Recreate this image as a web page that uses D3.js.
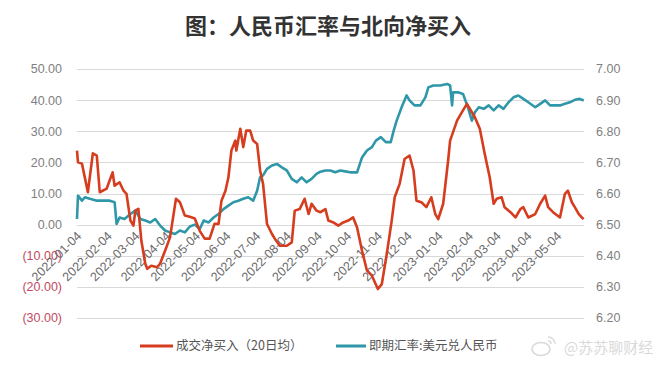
<!DOCTYPE html>
<html><head><meta charset="utf-8">
<script src="https://cdn.jsdelivr.net/npm/d3@7"></script>
<style>
html,body{margin:0;padding:0;background:#fff;}
svg{display:block;font-family:"Noto Sans CJK SC","Noto Sans",sans-serif;}
</style></head>
<body><svg id="c" width="672" height="368"></svg>
<script>
const title = "图：人民币汇率与北向净买入";
const seriesNames = ["成交净买入（20日均）", "即期汇率:美元兑人民币"];
const leftTicks = [-30, -20, -10, 0, 10, 20, 30, 40, 50];
const rightTicks = [6.2, 6.3, 6.4, 6.5, 6.6, 6.7, 6.8, 6.9, 7.0];
const xTickLabels = ["2022-01-04","2022-02-04","2022-03-04","2022-04-04","2022-05-04","2022-06-04","2022-07-04","2022-08-04","2022-09-04","2022-10-04","2022-11-04","2022-12-04","2023-01-04","2023-02-04","2023-03-04","2023-04-04","2023-05-04"];

const netDates = ["2022-01-04","2022-01-05","2022-01-09","2022-01-15","2022-01-20","2022-01-24","2022-01-27","2022-02-03","2022-02-09","2022-02-11","2022-02-16","2022-02-20","2022-02-23","2022-02-27","2022-03-02","2022-03-04","2022-03-07","2022-03-10","2022-03-14","2022-03-16","2022-03-20","2022-03-26","2022-03-29","2022-04-03","2022-04-08","2022-04-14","2022-04-18","2022-04-23","2022-04-28","2022-05-03","2022-05-08","2022-05-13","2022-05-18","2022-05-23","2022-05-27","2022-05-30","2022-06-03","2022-06-06","2022-06-09","2022-06-13","2022-06-14","2022-06-18","2022-06-21","2022-06-24","2022-06-28","2022-07-01","2022-07-05","2022-07-08","2022-07-11","2022-07-15","2022-07-20","2022-07-23","2022-07-28","2022-08-04","2022-08-09","2022-08-12","2022-08-17","2022-08-22","2022-08-26","2022-08-29","2022-09-03","2022-09-07","2022-09-12","2022-09-15","2022-09-20","2022-09-25","2022-09-30","2022-10-05","2022-10-10","2022-10-14","2022-10-19","2022-10-24","2022-10-29","2022-11-04","2022-11-08","2022-11-13","2022-11-18","2022-11-21","2022-11-26","2022-12-01","2022-12-06","2022-12-10","2022-12-13","2022-12-18","2022-12-23","2022-12-28","2023-01-01","2023-01-04","2023-01-09","2023-01-14","2023-01-16","2023-01-23","2023-01-29","2023-02-02","2023-02-10","2023-02-15","2023-02-20","2023-02-25","2023-03-01","2023-03-04","2023-03-09","2023-03-12","2023-03-18","2023-03-23","2023-03-28","2023-03-31","2023-04-05","2023-04-12","2023-04-17","2023-04-22","2023-04-25","2023-04-30","2023-05-07","2023-05-12","2023-05-15","2023-05-19","2023-05-22","2023-05-26","2023-05-29","2023-05-31"];
const netValues = [23.8,20.0,19.6,10.4,22.9,22.2,10.4,11.6,16.8,12.5,13.6,10.9,9.9,1.3,-0.3,4.5,5.1,-5.1,-12.6,-14.2,-13.2,-13.7,-12.5,-8.4,-4.1,8.3,7.2,2.9,2.5,2.0,-2.0,-4.5,-4.5,0.3,0.2,7.7,10.9,15.2,23.8,27.0,23.8,30.8,24.9,30.2,30.2,27.0,25.9,17.4,13.1,0.2,-3.0,-4.6,-6.8,-6.8,-5.7,4.5,5.0,8.3,3.4,6.7,4.5,4.0,5.0,1.3,0.7,-0.3,0.7,1.3,2.3,-0.9,-8.4,-14.8,-16.4,-20.7,-19.1,-9.4,1.3,8.8,13.1,21.1,22.2,17.4,7.7,7.2,5.6,8.8,3.4,1.8,6.7,20.6,27.0,33.4,36.7,38.8,34.5,30.8,22.7,15.2,6.7,8.3,8.8,5.6,4.0,2.3,5.0,5.6,2.3,3.4,6.7,9.3,5.6,4.0,2.3,9.9,10.9,7.2,5.6,3.4,2.3,1.8];

const fxDates = ["2022-01-04","2022-01-05","2022-01-09","2022-01-12","2022-01-17","2022-01-24","2022-01-31","2022-02-06","2022-02-11","2022-02-13","2022-02-16","2022-02-21","2022-02-27","2022-03-04","2022-03-09","2022-03-14","2022-03-19","2022-03-24","2022-03-29","2022-04-03","2022-04-08","2022-04-13","2022-04-18","2022-04-23","2022-04-28","2022-05-03","2022-05-08","2022-05-12","2022-05-17","2022-05-22","2022-05-27","2022-06-01","2022-06-06","2022-06-11","2022-06-16","2022-06-21","2022-06-26","2022-07-01","2022-07-05","2022-07-08","2022-07-11","2022-07-15","2022-07-20","2022-07-25","2022-07-30","2022-08-04","2022-08-09","2022-08-14","2022-08-19","2022-08-24","2022-08-29","2022-09-03","2022-09-07","2022-09-12","2022-09-17","2022-09-22","2022-09-27","2022-10-02","2022-10-07","2022-10-14","2022-10-19","2022-10-24","2022-10-29","2022-11-02","2022-11-07","2022-11-12","2022-11-17","2022-11-20","2022-11-23","2022-11-28","2022-12-03","2022-12-06","2022-12-11","2022-12-17","2022-12-22","2022-12-25","2022-12-30","2023-01-06","2023-01-13","2023-01-16","2023-01-18","2023-01-19","2023-01-24","2023-01-29","2023-02-03","2023-02-07","2023-02-10","2023-02-14","2023-02-19","2023-02-24","2023-03-01","2023-03-06","2023-03-11","2023-03-16","2023-03-21","2023-03-26","2023-03-31","2023-04-05","2023-04-12","2023-04-17","2023-04-22","2023-04-27","2023-05-02","2023-05-07","2023-05-12","2023-05-17","2023-05-22","2023-05-27","2023-05-31"];
const fxValues = [6.518,6.593,6.577,6.588,6.583,6.577,6.577,6.577,6.572,6.502,6.523,6.518,6.534,6.545,6.518,6.513,6.507,6.518,6.497,6.481,6.475,6.470,6.481,6.475,6.494,6.500,6.486,6.513,6.507,6.523,6.534,6.550,6.561,6.572,6.577,6.583,6.588,6.577,6.609,6.652,6.658,6.679,6.690,6.695,6.684,6.674,6.647,6.636,6.652,6.636,6.647,6.663,6.670,6.674,6.674,6.668,6.674,6.671,6.668,6.668,6.716,6.738,6.749,6.770,6.781,6.765,6.765,6.802,6.834,6.877,6.915,6.899,6.883,6.883,6.909,6.941,6.947,6.947,6.952,6.947,6.883,6.925,6.925,6.920,6.877,6.834,6.861,6.877,6.872,6.883,6.867,6.883,6.872,6.893,6.909,6.915,6.904,6.893,6.877,6.888,6.899,6.883,6.883,6.883,6.888,6.893,6.901,6.904,6.899];

const colors = {net: "#d63c1e", fx: "#2f97a8"};
const parse = d3.timeParse("%Y-%m-%d");
const svg = d3.select("#c");

const x = d3.scaleTime().domain([parse("2022-01-04"), parse("2023-05-04")]).range([77, 557]);
const yL = d3.scaleLinear().domain([-30, 50]).range([318, 69]);
const yR = d3.scaleLinear().domain([6.2, 7.0]).range([318, 69]);
const xLeft = 77, xRight = 584;

// title
svg.append("text").attr("x", 328).attr("y", 34).attr("text-anchor", "middle")
  .attr("font-size", 22).attr("font-weight", "bold").attr("fill", "#333").text(title);

// gridlines
svg.append("g").selectAll("line").data(leftTicks).join("line")
  .attr("x1", xLeft).attr("x2", xRight)
  .attr("y1", d => Math.round(yL(d)) + 0.5).attr("y2", d => Math.round(yL(d)) + 0.5)
  .attr("stroke", "#d9d9d9").attr("stroke-width", 1);

// left axis labels
const fmt = d3.format(".2f");
svg.append("g").selectAll("text").data(leftTicks).join("text")
  .attr("x", 62).attr("y", d => yL(d)).attr("dy", "0.35em").attr("text-anchor", "end")
  .attr("font-size", 12.5).attr("font-family", "Liberation Sans, Arial, sans-serif")
  .attr("fill", d => d < 0 ? "#c24a62" : "#808080")
  .text(d => d < 0 ? "(" + fmt(-d) + ")" : fmt(d));

// right axis labels
svg.append("g").selectAll("text").data(rightTicks).join("text")
  .attr("x", 596).attr("y", d => yR(d)).attr("dy", "0.35em").attr("text-anchor", "start")
  .attr("font-size", 12.5).attr("font-family", "Liberation Sans, Arial, sans-serif")
  .attr("fill", "#808080").text(d => d.toFixed(2));

// x tick labels
const y0 = yL(0);
svg.append("g").selectAll("text").data(xTickLabels).join("text")
  .attr("transform", d => `translate(${x(parse(d)) + 2},${y0 + 9}) rotate(-45)`)
  .attr("text-anchor", "end").attr("dy", "0.35em")
  .attr("font-size", 12.5).attr("font-family", "Liberation Sans, Arial, sans-serif")
  .attr("fill", "#6a6a6a").text(d => d);

// lines
const netData = netDates.map((d, i) => ({date: parse(d), v: netValues[i]}));
const fxData = fxDates.map((d, i) => ({date: parse(d), v: fxValues[i]}));

svg.append("path").datum(fxData)
  .attr("fill", "none").attr("stroke", colors.fx).attr("stroke-width", 2.6).attr("stroke-linejoin", "round")
  .attr("d", d3.line().x(d => x(d.date)).y(d => yR(d.v)));
svg.append("path").datum(netData)
  .attr("fill", "none").attr("stroke", colors.net).attr("stroke-width", 2.6).attr("stroke-linejoin", "round")
  .attr("d", d3.line().x(d => x(d.date)).y(d => yL(d.v)));

// legend
const lg = svg.append("g").attr("font-size", 12.5).attr("fill", "#555");
lg.append("line").attr("x1", 140).attr("x2", 173).attr("y1", 346).attr("y2", 346)
  .attr("stroke", colors.net).attr("stroke-width", 3);
lg.append("text").attr("x", 176).attr("y", 346).attr("dy", "0.35em").attr("fill", "#555").text(seriesNames[0]);
lg.append("line").attr("x1", 336).attr("x2", 366).attr("y1", 346).attr("y2", 346)
  .attr("stroke", colors.fx).attr("stroke-width", 3);
lg.append("text").attr("x", 369).attr("y", 346).attr("dy", "0.35em").attr("fill", "#555").text(seriesNames[1]);

// watermark
const wm = svg.append("g").attr("opacity", 0.55);
wm.append("ellipse").attr("cx", 541).attr("cy", 349).attr("rx", 9).attr("ry", 6.5)
  .attr("fill", "none").attr("stroke", "#bbb").attr("stroke-width", 1.6);
wm.append("path").attr("d", "M548,337 a7,7 0 0 1 7,7 M548,341 a3,3 0 0 1 3,3")
  .attr("fill", "none").attr("stroke", "#bbb").attr("stroke-width", 1.4);
wm.append("text").attr("x", 564).attr("y", 348).attr("dy", "0.35em").attr("font-size", 15)
  .attr("fill", "#bbb").text("@苏苏聊财经");
</script></body></html>
